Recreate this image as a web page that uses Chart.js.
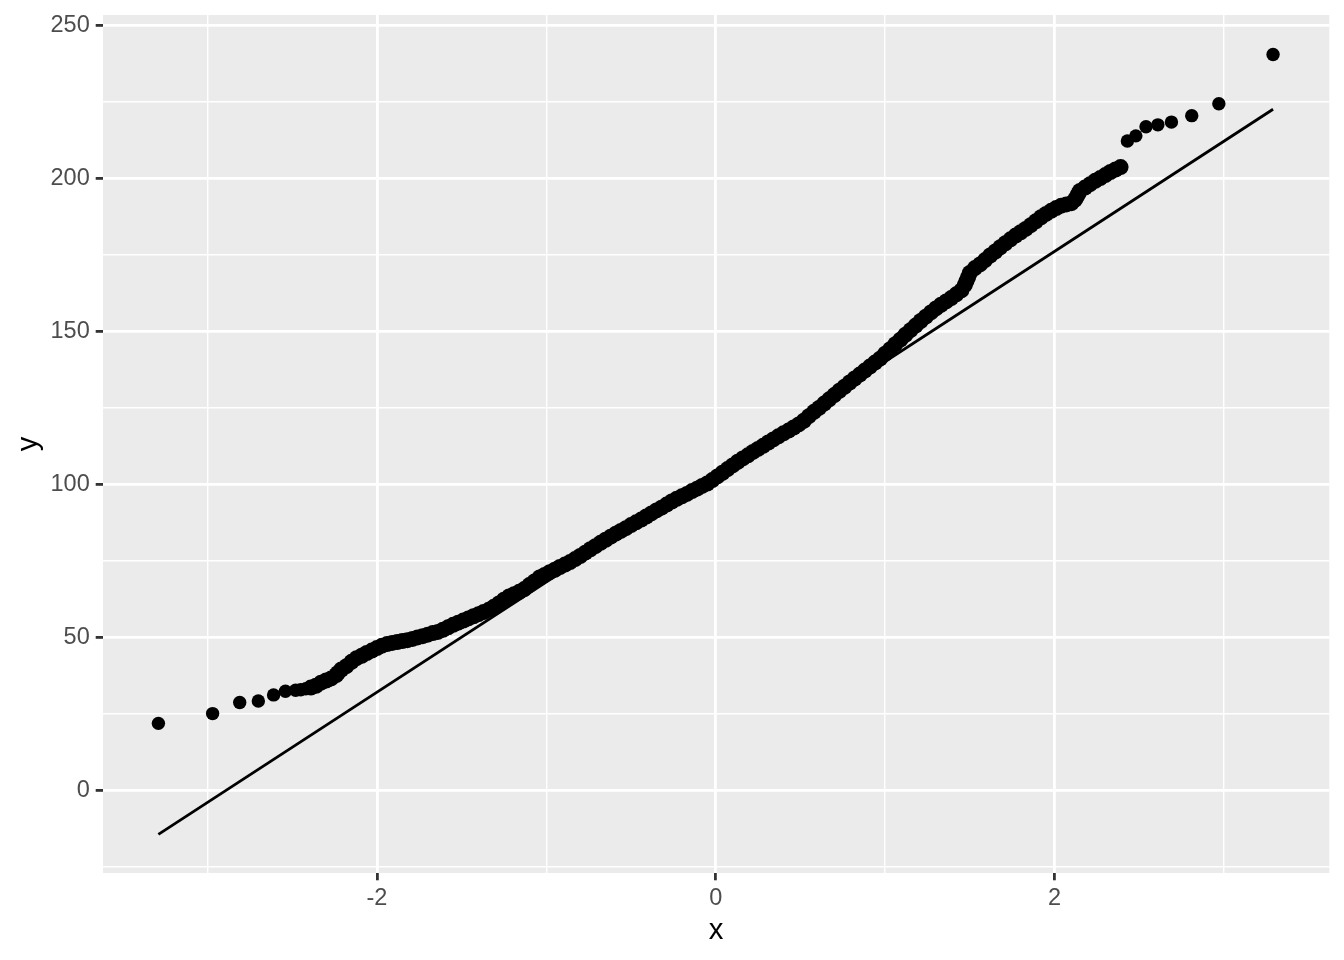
<!DOCTYPE html>
<html>
<head>
<meta charset="utf-8">
<script src="https://cdn.jsdelivr.net/npm/chart.js@4.4.1/dist/chart.umd.min.js"></script>
<style>
  html, body { margin: 0; padding: 0; background: #ffffff; }
  #qq { display: block; }
</style>
</head>
<body>
<canvas id="qq" width="1344" height="960"></canvas>
<script>
// theoretical quantiles (x) and sample values (y)
const qqX = [
  -3.29, -2.97, -2.81, -2.70, -2.61, -2.54, -2.48, -2.45, -2.42, -2.39,
  -2.36, -2.33, -2.30, -2.27, -2.24, -2.23, -2.21, -2.18, -2.15, -2.12,
  -2.09, -2.06, -2.03, -2.00, -1.97, -1.94, -1.91, -1.88, -1.85, -1.82,
  -1.79, -1.76, -1.73, -1.70, -1.67, -1.64, -1.61, -1.58, -1.55, -1.52,
  -1.49, -1.46, -1.43, -1.40, -1.37, -1.34, -1.31, -1.28, -1.25, -1.22,
  -1.19, -1.16, -1.13, -1.10, -1.07, -1.04, -1.01, -0.98, -0.95, -0.92,
  -0.89, -0.86, -0.83, -0.80, -0.77, -0.74, -0.71, -0.68, -0.65, -0.62,
  -0.59, -0.56, -0.53, -0.50, -0.47, -0.44, -0.41, -0.38, -0.35, -0.32,
  -0.29, -0.26, -0.23, -0.20, -0.17, -0.14, -0.11, -0.08, -0.05, -0.02,
  0.01, 0.04, 0.07, 0.10, 0.13, 0.16, 0.19, 0.22, 0.25, 0.28,
  0.31, 0.34, 0.37, 0.40, 0.43, 0.46, 0.49, 0.52, 0.55, 0.58,
  0.61, 0.64, 0.67, 0.70, 0.73, 0.76, 0.79, 0.82, 0.85, 0.88,
  0.91, 0.94, 0.97, 1.00, 1.03, 1.06, 1.09, 1.12, 1.15, 1.18,
  1.21, 1.24, 1.27, 1.30, 1.33, 1.36, 1.39, 1.42, 1.45, 1.47,
  1.48, 1.49, 1.50, 1.53, 1.56, 1.59, 1.62, 1.65, 1.68, 1.71,
  1.74, 1.77, 1.80, 1.83, 1.86, 1.89, 1.92, 1.95, 1.98, 2.01,
  2.04, 2.07, 2.10, 2.12, 2.13, 2.14, 2.15, 2.18, 2.21, 2.24,
  2.27, 2.30, 2.33, 2.36, 2.39, 2.43, 2.48, 2.54, 2.61, 2.69,
  2.81, 2.97, 3.29
];
const qqY = [
  21.8, 25.0, 28.6, 29.1, 31.1, 32.3, 32.6, 32.8, 33.1, 33.5,
  34.1, 35.1, 35.8, 36.5, 37.6, 38.3, 39.4, 40.5, 41.9, 43.1,
  43.9, 44.8, 45.6, 46.4, 47.2, 47.7, 48.1, 48.4, 48.7, 49.0,
  49.4, 49.9, 50.3, 50.8, 51.3, 51.7, 52.4, 53.2, 54.0, 54.7,
  55.4, 56.1, 56.8, 57.5, 58.2, 58.9, 59.9, 61.0, 62.2, 63.3,
  64.0, 64.8, 65.7, 67.0, 68.2, 69.5, 70.3, 71.2, 72.0, 72.9,
  73.7, 74.5, 75.5, 76.5, 77.6, 78.7, 79.7, 80.8, 81.8, 82.8,
  83.8, 84.7, 85.6, 86.6, 87.5, 88.4, 89.4, 90.4, 91.4, 92.3,
  93.3, 94.3, 95.2, 96.0, 96.8, 97.7, 98.5, 99.4, 100.2, 101.3,
  102.5, 103.7, 104.9, 106.1, 107.3, 108.4, 109.4, 110.5, 111.5, 112.5,
  113.6, 114.6, 115.6, 116.6, 117.5, 118.5, 119.5, 120.7, 122.2, 123.6,
  124.9, 126.3, 127.7, 129.1, 130.5, 131.8, 133.2, 134.5, 135.8, 137.1,
  138.4, 139.7, 141.0, 142.6, 144.1, 145.7, 147.2, 148.8, 150.3, 151.8,
  153.3, 154.7, 156.1, 157.4, 158.6, 159.7, 160.8, 162.0, 163.3, 165.0,
  166.3, 167.6, 169.0, 170.6, 171.8, 173.2, 174.7, 176.0, 177.4, 178.7,
  180.0, 181.2, 182.3, 183.4, 184.6, 185.9, 187.2, 188.3, 189.3, 190.2,
  191.0, 191.4, 191.8, 192.9, 193.8, 194.8, 195.8, 196.9, 198.0, 199.1,
  200.0, 201.0, 202.0, 202.8, 203.6, 212.1, 213.8, 216.8, 217.4, 218.3,
  220.4, 224.3, 240.4
];

// reference line (ends)
const lineX = [-3.29, 3.29];
const lineY = [-14.5, 222.5];

// axis ticks / grid
const xMajor = [-2, 0, 2];
const xMinor = [-3, -1, 1, 3];
const yMajor = [0, 50, 100, 150, 200, 250];
const yMinor = [-25, 25, 75, 125, 175, 225];

const xRange = [-3.617, 3.622];
const yRange = [-27.1, 253.3];

const toPts = (xs, ys) => xs.map((x, i) => ({ x: x, y: ys[i] }));
const allTicks = (a, b) => a.concat(b).sort((p, q) => p - q).map(v => ({ value: v }));

// grey panel behind everything
const panelBg = {
  id: 'panelBg',
  beforeDraw(chart) {
    const { ctx, chartArea: a } = chart;
    ctx.save();
    ctx.fillStyle = '#ffffff';
    ctx.fillRect(0, 0, chart.width, chart.height);
    ctx.fillStyle = '#EBEBEB';
    ctx.fillRect(a.left, a.top, a.right - a.left, a.bottom - a.top);
    ctx.restore();
  }
};

const gridFor = (major) => ({
  color: '#ffffff',
  lineWidth: (c) => (c.tick && major.includes(c.tick.value)) ? 2.8 : 1.4,
  tickColor: (c) => (c.tick && major.includes(c.tick.value)) ? '#333333' : 'rgba(0,0,0,0)',
  tickWidth: 2.8,
  tickLength: 7.3,
  drawTicks: true
});

const noOverflow = (s) => {
  s.paddingTop = 0; s.paddingBottom = 0; s.paddingLeft = 0; s.paddingRight = 0;
};

const tickFont = { family: '"Liberation Sans", Arial, sans-serif', size: 23.5 };
const titleFont = { family: '"Liberation Sans", Arial, sans-serif', size: 29.3 };

new Chart(document.getElementById('qq'), {
  type: 'scatter',
  data: {
    datasets: [
      {
        data: toPts(lineX, lineY),
        showLine: true,
        borderColor: '#000000',
        borderWidth: 2.8,
        pointRadius: 0
      },
      {
        data: toPts(qqX, qqY),
        backgroundColor: '#000000',
        borderWidth: 0,
        // dense middle reads as a thicker band than the lone tail points
        pointRadius: (c) => Math.abs(qqX[c.dataIndex]) > 2.4 ? 6.7 : 8
      }
    ]
  },
  options: {
    responsive: false,
    animation: false,
    devicePixelRatio: 1,
    layout: { padding: { top: 15, right: 14.7, bottom: 0, left: 0 } },
    plugins: { legend: { display: false }, tooltip: { enabled: false } },
    scales: {
      x: {
        type: 'linear',
        min: xRange[0],
        max: xRange[1],
        afterBuildTicks: (s) => { s.ticks = allTicks(xMajor, xMinor); },
        afterFit: (s) => { s.height = 87; noOverflow(s); },
        grid: gridFor(xMajor),
        border: { display: false },
        ticks: {
          autoSkip: false,
          maxRotation: 0,
          padding: 4,
          color: '#4D4D4D',
          font: tickFont,
          callback: (v) => xMajor.includes(v) ? String(v) : ''
        },
        title: { display: true, text: 'x', color: '#000000', font: titleFont, padding: { top: 0, bottom: 12 } }
      },
      y: {
        type: 'linear',
        min: yRange[0],
        max: yRange[1],
        afterBuildTicks: (s) => { s.ticks = allTicks(yMajor, yMinor); },
        afterFit: (s) => { s.width = 103; noOverflow(s); },
        grid: gridFor(yMajor),
        border: { display: false },
        ticks: {
          autoSkip: false,
          padding: 6,
          color: '#4D4D4D',
          font: tickFont,
          callback: (v) => yMajor.includes(v) ? String(v) : ''
        },
        title: { display: true, text: 'y', color: '#000000', font: titleFont, padding: { top: 11, bottom: 0 } }
      }
    }
  },
  plugins: [panelBg]
});
</script>
</body>
</html>
